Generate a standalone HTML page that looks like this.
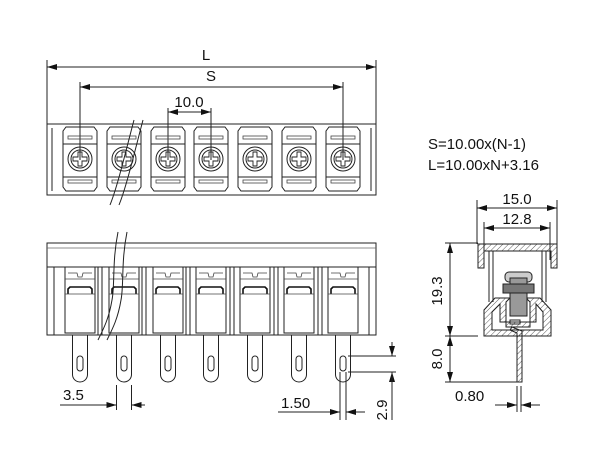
<!DOCTYPE html>
<html><head><meta charset="utf-8"><style>
html,body{margin:0;padding:0;background:#fff;}
svg{display:block;}
text{font-family:"Liberation Sans",sans-serif;fill:#111;}
</style></head><body>
<svg width="600" height="450" viewBox="0 0 600 450" xmlns="http://www.w3.org/2000/svg">
<defs>
<marker id="a" viewBox="0 0 10 6" refX="10" refY="3" markerWidth="10" markerHeight="6" orient="auto-start-reverse" markerUnits="userSpaceOnUse"><path d="M0,0L10,3L0,6z" fill="#111"/></marker>
<pattern id="h" width="4" height="4" patternUnits="userSpaceOnUse" patternTransform="rotate(45)"><line x1="0" y1="0" x2="0" y2="4" stroke="#333" stroke-width="0.8"/></pattern>
<g id="cell">
 <path d="M-14,-32 L14,-32 L17,-28 L17,28 L14,32 L-14,32 L-17,28 L-17,-28 Z" fill="none" stroke="#222" stroke-width="1"/>
 <rect x="-12" y="-23" width="24" height="3" fill="none" stroke="#444" stroke-width="0.8"/>
 <rect x="-12" y="21" width="24" height="3" fill="none" stroke="#444" stroke-width="0.8"/>
 <rect x="-17" y="-15" width="34" height="33" fill="none" stroke="#222" stroke-width="1"/>
 <circle r="12" fill="none" stroke="#222" stroke-width="1"/>
 <circle r="9" fill="none" stroke="#222" stroke-width="1"/>
 <path d="M-2,-7 L2,-7 L2,-2 L7,-2 L7,2 L2,2 L2,7 L-2,7 L-2,2 L-7,2 L-7,-2 L-2,-2 Z" fill="none" stroke="#222" stroke-width="0.9"/>
</g>
<g id="side">
 <rect x="-15" y="0" width="30" height="66" fill="none" stroke="#222" stroke-width="1"/>
 <path d="M-12,6 L-3,6 L-2,10 L2,10 L3,6 L12,6" fill="none" stroke="#444" stroke-width="0.8"/>
 <line x1="-15" y1="12" x2="15" y2="12" stroke="#444" stroke-width="0.8"/>
 <path d="M-12,27 L-12,22 L-10,20 L10,20 L12,22 L12,27" fill="none" stroke="#111" stroke-width="1.6"/>
 <line x1="-15" y1="27" x2="15" y2="27" stroke="#444" stroke-width="0.8"/>
 <path d="M-7.5,68 L-7.5,107.5 A7.5,7.5 0 0 0 7.5,107.5 L7.5,68" fill="none" stroke="#222" stroke-width="1"/>
 <rect x="-3" y="89" width="6" height="15" rx="3" fill="none" stroke="#222" stroke-width="1"/>
</g>
</defs>
<g stroke="#222" stroke-width="1" fill="none">
 <line x1="47" y1="60" x2="47" y2="124"/><line x1="376" y1="60" x2="376" y2="124"/>
 <line x1="47" y1="67" x2="376" y2="67" marker-start="url(#a)" marker-end="url(#a)"/>
 <line x1="80" y1="82" x2="80" y2="160"/><line x1="343" y1="82" x2="343" y2="160"/>
 <line x1="80" y1="87" x2="343" y2="87" marker-start="url(#a)" marker-end="url(#a)"/>
 <line x1="168" y1="108" x2="168" y2="160"/><line x1="211" y1="108" x2="211" y2="160"/>
 <line x1="168" y1="112" x2="211" y2="112" marker-start="url(#a)" marker-end="url(#a)"/>
 <rect x="47" y="124" width="329" height="71"/>
 <line x1="52" y1="128" x2="52" y2="191"/><line x1="371" y1="128" x2="371" y2="191"/>
</g>
<use href="#cell" x="80" y="159"/><use href="#cell" x="124" y="159"/><use href="#cell" x="168" y="159"/><use href="#cell" x="211" y="159"/><use href="#cell" x="255" y="159"/><use href="#cell" x="299" y="159"/><use href="#cell" x="343" y="159"/>
<g stroke="#222" stroke-width="1" fill="none">
 <rect x="47" y="243" width="329" height="92"/>
 <line x1="47" y1="248" x2="376" y2="248" stroke="#666" stroke-width="0.7"/>
 <line x1="47" y1="267" x2="376" y2="267"/>
 <line x1="54" y1="267" x2="54" y2="335"/><line x1="369" y1="267" x2="369" y2="335"/>
</g>
<use href="#side" x="80" y="267"/><use href="#side" x="124" y="267"/><use href="#side" x="168" y="267"/><use href="#side" x="211" y="267"/><use href="#side" x="255" y="267"/><use href="#side" x="299" y="267"/><use href="#side" x="343" y="267"/>
<g stroke="#222" stroke-width="1" fill="none">
 <rect x="98" y="267" width="4" height="68"/><rect x="142" y="267" width="4" height="68"/><rect x="186" y="267" width="4" height="68"/><rect x="230" y="267" width="4" height="68"/><rect x="274" y="267" width="4" height="68"/><rect x="318" y="267" width="4" height="68"/>
 <!-- break lines -->
 <path d="M110,205 C118,185 126,150 134,120"/>
 <path d="M119,205 C127,185 135,150 143,120"/>
 <path d="M118,232 C112,262 115,285 112,300 C109,318 104,328 98,340"/>
 <path d="M127,232 C121,262 124,285 121,300 C118,318 113,328 107,340"/>
 <!-- 3.5 -->
 <line x1="116.5" y1="385" x2="116.5" y2="410"/><line x1="131.5" y1="385" x2="131.5" y2="410"/>
 <line x1="60" y1="405" x2="116.5" y2="405" marker-end="url(#a)"/>
 <line x1="145" y1="405" x2="131.5" y2="405" marker-end="url(#a)"/>
 <!-- 1.50 -->
 <line x1="340" y1="372" x2="340" y2="420"/><line x1="346" y1="372" x2="346" y2="420"/>
 <line x1="278" y1="412" x2="340" y2="412" marker-end="url(#a)"/>
 <line x1="365" y1="412" x2="346" y2="412" marker-end="url(#a)"/>
 <!-- 2.9 -->
 <line x1="348" y1="356" x2="396" y2="356"/><line x1="348" y1="372" x2="396" y2="372"/>
 <line x1="392" y1="342" x2="392" y2="356" marker-end="url(#a)"/>
 <line x1="392" y1="386" x2="392" y2="372" marker-end="url(#a)"/>
 <line x1="392" y1="372" x2="392" y2="420"/>
 <!-- right view dims -->
 <line x1="477" y1="200" x2="477" y2="244"/><line x1="557" y1="200" x2="557" y2="244"/>
 <line x1="477" y1="208" x2="557" y2="208" marker-start="url(#a)" marker-end="url(#a)"/>
 <line x1="484" y1="222" x2="484" y2="260"/><line x1="550" y1="222" x2="550" y2="260"/>
 <line x1="484" y1="228" x2="550" y2="228" marker-start="url(#a)" marker-end="url(#a)"/>
 <line x1="445" y1="243" x2="478" y2="243"/><line x1="445" y1="336" x2="478" y2="336"/><line x1="445" y1="382" x2="518" y2="382"/>
 <line x1="450" y1="243" x2="450" y2="336" marker-start="url(#a)" marker-end="url(#a)"/>
 <line x1="450" y1="336" x2="450" y2="382" marker-start="url(#a)" marker-end="url(#a)"/>
 <line x1="517" y1="386" x2="517" y2="412"/><line x1="521" y1="386" x2="521" y2="412"/>
 <line x1="495" y1="405" x2="517" y2="405" marker-end="url(#a)"/>
 <line x1="540" y1="405" x2="521" y2="405" marker-end="url(#a)"/>
 <!-- right view body -->
 <path d="M478,268 L478,244 L557,244 L557,268 L551,268 L551,251 L484,251 L484,268 Z" fill="url(#h)"/>
 <line x1="489" y1="251" x2="489" y2="302"/><line x1="493" y1="251" x2="493" y2="302"/>
 <line x1="542" y1="251" x2="542" y2="302"/><line x1="546" y1="251" x2="546" y2="302"/>
 <path d="M484,336 L484,310 L495,298 L510,298 L506,302 L506,327 L530,327 L530,302 L526,298 L540,298 L551,310 L551,336 Z M492,330 L543,330 L543,312 L536,304 L536,322 L500,322 L500,304 L492,312 Z" fill="url(#h)" fill-rule="evenodd"/>
 <rect x="505" y="272" width="27" height="10" rx="4" fill="#ccc"/>
 <rect x="510" y="278" width="17" height="38" fill="#999"/>
 <rect x="503" y="284" width="31" height="9" fill="#777"/>
 <rect x="510" y="320" width="10" height="4" fill="none"/>
 <path d="M517,382 L517,333 L510,330 L512,327 L522,331 L522,382 Z" fill="url(#h)"/>
</g>
<g font-size="15">
 <text x="206" y="60" text-anchor="middle">L</text>
 <text x="211" y="81" text-anchor="middle">S</text>
 <text x="189" y="107" text-anchor="middle">10.0</text>
 <text x="428" y="149">S=10.00x(N-1)</text>
 <text x="428" y="170">L=10.00xN+3.16</text>
 <text x="517" y="204" text-anchor="middle">15.0</text>
 <text x="517" y="224" text-anchor="middle">12.8</text>
 <text x="63" y="400">3.5</text>
 <text x="281" y="408">1.50</text>
 <text x="455" y="401">0.80</text>
 <text transform="translate(442,291) rotate(-90)" text-anchor="middle">19.3</text>
 <text transform="translate(442,359) rotate(-90)" text-anchor="middle">8.0</text>
 <text transform="translate(387,410) rotate(-90)" text-anchor="middle">2.9</text>
</g>
</svg>
</body></html>
